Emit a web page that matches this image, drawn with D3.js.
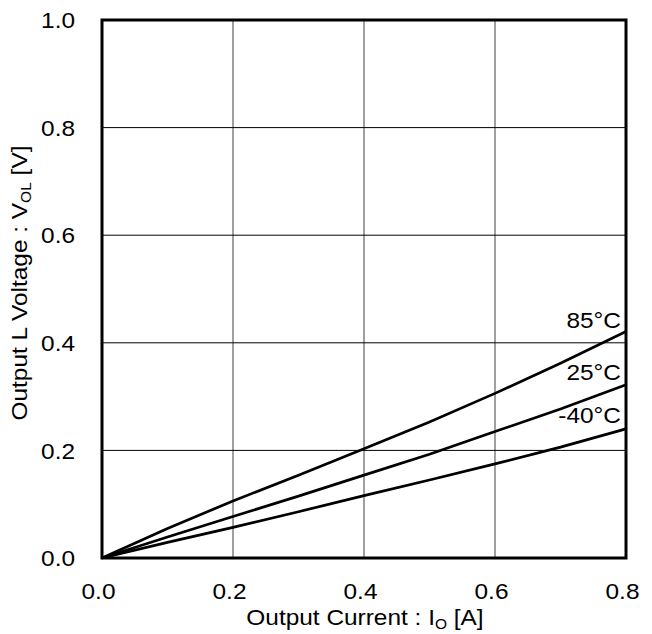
<!DOCTYPE html>
<html><head><meta charset="utf-8">
<script src="https://cdn.jsdelivr.net/npm/d3@7"></script>
<style>body{margin:0;background:#fff}svg text{font-family:"Liberation Sans",Arial,sans-serif;fill:#000;font-weight:normal}</style>
</head><body>
<svg id="c" width="652" height="634"></svg>
<script>
const currents = [0, 0.1, 0.2, 0.3, 0.4, 0.5, 0.6, 0.7, 0.8];
const v85 = [0, 0.055, 0.106, 0.154, 0.203, 0.253, 0.306, 0.362, 0.421];
const v25 = [0, 0.039, 0.077, 0.115, 0.154, 0.193, 0.235, 0.277, 0.322];
const vm40 = [0, 0.029, 0.057, 0.086, 0.116, 0.145, 0.175, 0.206, 0.240];
const seriesNames = ["85°C", "25°C", "-40°C"];
const xTicks = [0, 0.2, 0.4, 0.6, 0.8];
const yTicks = [0, 0.2, 0.4, 0.6, 0.8, 1.0];

const svg = d3.select("#c");
const L = 102, R = 626, T = 20, B = 558;
const x = d3.scaleLinear().domain([0, 0.8]).range([L, R]);
const y = d3.scaleLinear().domain([0, 1.0]).range([B, T]);
const fs = 22, sx = 1.11, FF = '"Liberation Sans",Arial,sans-serif';

// grid
svg.append("g").selectAll("line").data(xTicks.slice(1, -1)).join("line")
  .attr("x1", d => x(d)).attr("x2", d => x(d)).attr("y1", T).attr("y2", B)
  .attr("stroke", "#808080").attr("stroke-width", 1.5);
svg.append("g").selectAll("line").data(yTicks.slice(1, -1)).join("line")
  .attr("x1", L).attr("x2", R).attr("y1", d => y(d)).attr("y2", d => y(d))
  .attr("stroke", "#000").attr("stroke-width", 1);

// axes tick labels
const xAxis = d3.axisBottom(x).tickValues(xTicks).tickFormat(d3.format(".1f")).tickSize(0).tickPadding(0);
const gx = svg.append("g").attr("transform", `translate(0,${B})`).call(xAxis);
gx.select(".domain").remove();
gx.selectAll("text").attr("font-size", fs).attr("dy", null).attr("y", 0).attr("x", 0)
  .attr("transform", `translate(-4,41) scale(${sx},1)`)
  .style("font-family", FF).attr("fill", "#000");

const yAxis = d3.axisLeft(y).tickValues(yTicks).tickFormat(d3.format(".1f")).tickSize(0).tickPadding(0);
const gy = svg.append("g").attr("transform", `translate(${L},0)`).call(yAxis);
gy.select(".domain").remove();
gy.selectAll("text").attr("font-size", fs).attr("x", 0).attr("dy", "0.35em")
  .attr("transform", `translate(-27,0) scale(${sx},1)`)
  .style("font-family", FF).attr("fill", "#000");

// lines
const line = d3.line().x((d, i) => x(currents[i])).y(d => y(d));
[v85, v25, vm40].forEach(s => {
  svg.append("path").attr("d", line(s)).attr("fill", "none")
    .attr("stroke", "#000").attr("stroke-width", 2.7).attr("stroke-linejoin", "round");
});

// frame
svg.append("rect").attr("x", L).attr("y", T).attr("width", R - L).attr("height", B - T)
  .attr("fill", "none").attr("stroke", "#000").attr("stroke-width", 3);

// series labels
const lastVals = [v85[8], v25[8], vm40[8]];
const labelOffsets = [-3.5, -5, -6];
seriesNames.forEach((n, i) => {
  svg.append("text").attr("transform", `translate(${R - 5},${y(lastVals[i]) + labelOffsets[i]}) scale(${sx},1)`)
    .attr("text-anchor", "end").attr("font-size", fs).text(n);
});

// axis titles
const xt = svg.append("text").attr("transform", `translate(${(L + R) / 2 + 1},625) scale(${sx},1)`)
  .attr("text-anchor", "middle").attr("font-size", fs);
xt.append("tspan").text("Output Current : I");
xt.append("tspan").attr("font-size", 14).attr("dy", 4).text("O");
xt.append("tspan").attr("dy", -4).text(" [A]");

const yt = svg.append("text").attr("transform", `translate(27,283) rotate(-90) scale(${sx},1)`)
  .attr("text-anchor", "middle").attr("font-size", fs);
yt.append("tspan").text("Output L Voltage : V");
yt.append("tspan").attr("font-size", 14).attr("dy", 4).text("OL");
yt.append("tspan").attr("dy", -4).text(" [V]");
</script>
</body></html>
